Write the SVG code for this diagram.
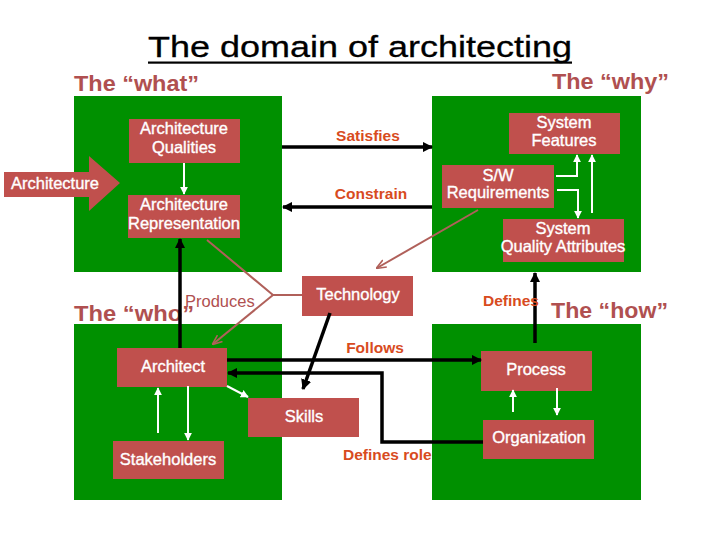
<svg xmlns="http://www.w3.org/2000/svg" width="720" height="540" viewBox="0 0 720 540">
<style>
.bg{fill:#ffffff}
.area{fill:#009000}
.box{fill:#C0504D}
.bt{font-family:"Liberation Sans",Arial,sans-serif;font-size:16.5px;fill:#ffffff;stroke:#ffffff;stroke-width:0.35;text-anchor:middle}
.lbl{font-family:"Liberation Sans",Arial,sans-serif;font-size:15.5px;font-weight:bold;fill:#D84B1E}
.hd{font-family:"Liberation Sans",Arial,sans-serif;font-size:22px;font-weight:bold;fill:#B05050}
.blk{stroke:#000;stroke-width:3.5;fill:none}
.wht{stroke:#fff;stroke-width:2;fill:none}
.brn{stroke:#B0605A;stroke-width:2;fill:none}
</style>
<defs>
<marker id="ab" viewBox="0 0 10 10" refX="9" refY="5" markerWidth="3" markerHeight="3" orient="auto" markerUnits="strokeWidth"><path d="M0,0L10,5L0,10z" fill="#000"/></marker>
<marker id="aw" viewBox="0 0 10 10" refX="9" refY="5" markerWidth="4" markerHeight="4" orient="auto" markerUnits="strokeWidth"><path d="M0,0L10,5L0,10z" fill="#fff"/></marker>
<marker id="an" viewBox="0 0 10 10" refX="9" refY="5" markerWidth="5" markerHeight="5" orient="auto" markerUnits="strokeWidth"><path d="M0,1L10,5L0,9" fill="none" stroke="#B0605A" stroke-width="1.6"/></marker>
</defs>
<rect class="bg" x="0" y="0" width="720" height="540"/>
<text x="360" y="57" font-family="'Liberation Sans',Arial,sans-serif" font-size="30" text-anchor="middle" fill="#000" stroke="#000" stroke-width="0.3" textLength="424" lengthAdjust="spacingAndGlyphs">The domain of architecting</text>
<rect x="148" y="61.5" width="424" height="2.2" fill="#000"/>
<text class="hd" x="74" y="91" textLength="125" lengthAdjust="spacingAndGlyphs">The “what”</text>
<text class="hd" x="552" y="89" textLength="117" lengthAdjust="spacingAndGlyphs">The “why”</text>
<text class="hd" x="74" y="321" textLength="120" lengthAdjust="spacingAndGlyphs">The “who”</text>
<text class="hd" x="551" y="318" textLength="117" lengthAdjust="spacingAndGlyphs">The “how”</text>
<g id="area-what"><rect class="area" x="74" y="96" width="208" height="176"/></g>
<g id="area-why"><rect class="area" x="432" y="96" width="209" height="176"/></g>
<g id="area-who"><rect class="area" x="74" y="324" width="208" height="176"/></g>
<g id="area-how"><rect class="area" x="432" y="324" width="209" height="176"/></g>
<g id="architecture">
<polygon class="box" points="4,172 89,172 89,156 120,183 89,211 89,197 4,197"/>
<text class="bt" x="55" y="189">Architecture</text>
</g>
<g id="arch-qualities"><rect class="box" x="129" y="119" width="111" height="44"/><text class="bt" x="184" y="134">Architecture</text><text class="bt" x="184" y="153">Qualities</text></g>
<g id="arch-repr"><rect class="box" x="128" y="195" width="112" height="43"/><text class="bt" x="184" y="210">Architecture</text><text class="bt" x="184" y="229">Representation</text></g>
<g id="sys-features"><rect class="box" x="509" y="113" width="111" height="41"/><text class="bt" x="564" y="128">System</text><text class="bt" x="564" y="146">Features</text></g>
<g id="sw-req"><rect class="box" x="442" y="165" width="112" height="43"/><text class="bt" x="498" y="181">S/W</text><text class="bt" x="498" y="198">Requirements</text></g>
<g id="sys-qa"><rect class="box" x="503" y="219" width="121" height="43"/><text class="bt" x="563" y="234">System</text><text class="bt" x="563" y="252">Quality Attributes</text></g>
<g id="technology"><rect class="box" x="302" y="276" width="111" height="40"/><text class="bt" x="358" y="300">Technology</text></g>
<g id="architect"><rect class="box" x="117" y="348" width="110" height="39"/><text class="bt" x="173" y="372">Architect</text></g>
<g id="stakeholders"><rect class="box" x="113" y="441" width="111" height="38"/><text class="bt" x="168" y="465">Stakeholders</text></g>
<g id="skills"><rect class="box" x="248" y="398" width="111" height="39"/><text class="bt" x="304" y="422">Skills</text></g>
<g id="process"><rect class="box" x="481" y="351" width="111" height="40"/><text class="bt" x="536" y="375">Process</text></g>
<g id="organization"><rect class="box" x="483" y="420" width="111" height="39"/><text class="bt" x="539" y="443">Organization</text></g>
<g id="connectors">
<line class="blk" x1="282" y1="147" x2="432" y2="147" marker-end="url(#ab)"/>
<line class="blk" x1="432" y1="207" x2="283" y2="207" marker-end="url(#ab)"/>
<line class="wht" x1="184" y1="163" x2="184" y2="194" marker-end="url(#aw)"/>
<line class="blk" x1="180" y1="348" x2="180" y2="239" marker-end="url(#ab)"/>
<polyline class="brn" points="207,240 273,295 302,295"/>
<line class="brn" x1="273" y1="295" x2="213" y2="344" marker-end="url(#an)"/>
<line class="brn" x1="478" y1="210" x2="377" y2="268" marker-end="url(#an)"/>
<polyline class="wht" points="556,176 577,176 577,155" marker-end="url(#aw)"/>
<polyline class="wht" points="557,190 578,190 578,218" marker-end="url(#aw)"/>
<line class="wht" x1="592" y1="213" x2="592" y2="155" marker-end="url(#aw)"/>
<line class="blk" x1="535" y1="343" x2="535" y2="273" marker-end="url(#ab)"/>
<line class="blk" x1="227" y1="360" x2="481" y2="360" marker-end="url(#ab)"/>
<polyline class="blk" points="483,442 382,442 382,373 228,373" marker-end="url(#ab)"/>
<line class="blk" x1="330" y1="313" x2="303" y2="389" marker-end="url(#ab)"/>
<line class="wht" x1="227" y1="386" x2="248" y2="397" marker-end="url(#aw)"/>
<line class="wht" x1="158" y1="433" x2="158" y2="388" marker-end="url(#aw)"/>
<line class="wht" x1="188" y1="386" x2="188" y2="440" marker-end="url(#aw)"/>
<line class="wht" x1="513" y1="412" x2="513" y2="390" marker-end="url(#aw)"/>
<line class="wht" x1="557" y1="388" x2="557" y2="415" marker-end="url(#aw)"/>
</g>
<text class="lbl" x="368" y="141" text-anchor="middle">Satisfies</text>
<text class="lbl" x="371" y="199" text-anchor="middle">Constrain</text>
<text class="lbl" x="375" y="353" text-anchor="middle">Follows</text>
<text class="lbl" x="483" y="306">Defines</text>
<text class="lbl" x="343" y="460">Defines role</text>
<text x="185" y="307" font-family="'Liberation Sans',Arial,sans-serif" font-size="16.5" fill="#B05050">Produces</text>
</svg>
